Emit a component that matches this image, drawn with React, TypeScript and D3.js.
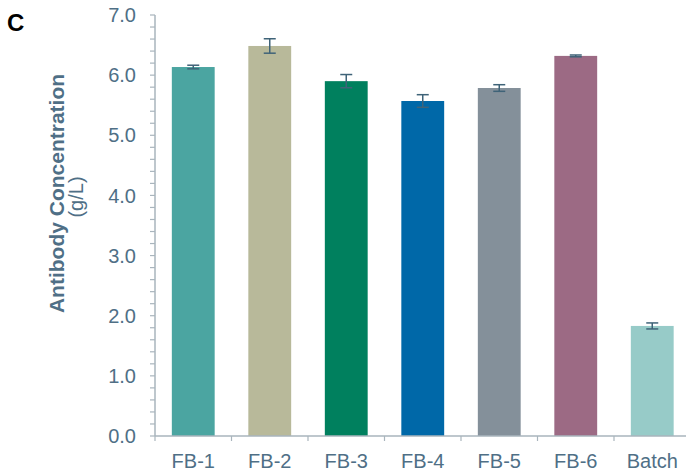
import React from "react";
import * as d3 from "d3";

const categories = ["FB-1", "FB-2", "FB-3", "FB-4", "FB-5", "FB-6", "Batch"];
const values = [6.135, 6.485, 5.9, 5.57, 5.786, 6.32, 1.83];
const errors = [0.03, 0.12, 0.11, 0.105, 0.055, 0.015, 0.05];
const colors = ["#4ba5a1", "#b8b99a", "#00805e", "#0068a8", "#84909a", "#9c6a84", "#97cbc8"];
const majorTicks = [0, 1, 2, 3, 4, 5, 6, 7];

const W = 686;
const H = 471;
const left = 155;
const bottom = 436;
const top = 15;
const textColor = "#4f6f86";
const axisColor = "#a9b5bd";
const errColor = "#3f6378";

export default function App() {
  const x = d3
    .scaleBand<string>()
    .domain(categories)
    .range([left, left + 7 * 76.5])
    .paddingInner(0.44)
    .paddingOuter(0.22);
  const y = d3.scaleLinear().domain([0, 7]).range([bottom, top]);
  const minor = d3.range(0, 7.0001, 0.2);
  const step = x.step();

  return (
    <svg
      width={W}
      height={H}
      style={{ position: "absolute", left: 0, top: 0, fontFamily: "'Liberation Sans', Arial, sans-serif" }}
    >
      <text x={7} y={31} fontSize={24} fontWeight="bold" fill="#000">C</text>

      {/* y axis */}
      <line x1={left} x2={left} y1={top} y2={bottom} stroke={axisColor} strokeWidth={1.5} />
      {minor.map((v, i) => (
        <line key={i} x1={left - 5} x2={left} y1={y(v)} y2={y(v)} stroke={axisColor} strokeWidth={1.2} />
      ))}
      {majorTicks.map((v) => (
        <text key={v} x={136} y={y(v)} dy="0.36em" textAnchor="end" fontSize={20} fill={textColor}>
          {v.toFixed(1)}
        </text>
      ))}

      {/* bars */}
      {categories.map((c, i) => (
        <rect key={c} x={x(c)!} y={y(values[i])} width={x.bandwidth()} height={bottom - y(values[i])} fill={colors[i]} />
      ))}

      {/* error bars */}
      {categories.map((c, i) => {
        const cx = x(c)! + x.bandwidth() / 2;
        const hi = y(values[i] + errors[i]);
        const lo = y(values[i] - errors[i]);
        return (
          <g key={c} stroke={errColor} strokeWidth={1.5}>
            <line x1={cx} x2={cx} y1={hi} y2={lo} />
            <line x1={cx - 6} x2={cx + 6} y1={hi} y2={hi} />
            <line x1={cx - 6} x2={cx + 6} y1={lo} y2={lo} />
          </g>
        );
      })}

      {/* x axis */}
      <line x1={left} x2={W} y1={bottom} y2={bottom} stroke={axisColor} strokeWidth={1.5} />
      {categories.map((c, i) => (
        <line key={c} x1={left + i * step} x2={left + i * step} y1={bottom} y2={bottom + 5} stroke={axisColor} strokeWidth={1.2} />
      ))}
      {categories.map((c) => (
        <text key={c} x={x(c)! + x.bandwidth() / 2} y={467.5} textAnchor="middle" fontSize={20} fill={textColor}>
          {c}
        </text>
      ))}

      {/* y title */}
      <text transform="translate(64,193.5) rotate(-90)" textAnchor="middle" fontSize={21} fontWeight="bold" fill={textColor}>
        Antibody Concentration
      </text>
      <text transform="translate(82.5,197) rotate(-90)" textAnchor="middle" fontSize={20} fill={textColor}>
        (g/L)
      </text>
    </svg>
  );
}
